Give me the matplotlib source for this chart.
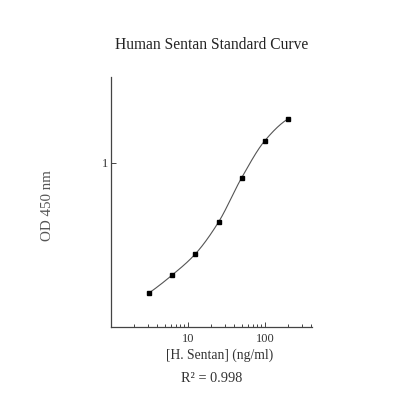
import numpy as np
import matplotlib
matplotlib.use("Agg")
import matplotlib.pyplot as plt
from matplotlib.ticker import FixedLocator, NullFormatter, NullLocator, FixedFormatter

conc = [3.125, 6.25, 12.5, 25, 50, 100, 200]
od = [0.190, 0.239, 0.313, 0.470, 0.829, 1.330, 1.756]
x_ticks = [10, 100]
x_tick_labels = ["10", "100"]
y_ticks = [1]
y_tick_labels = ["1"]

plt.rcParams['font.family'] = ['Liberation Serif', 'DejaVu Serif']

def pchip(x, y, xn):
    x = np.asarray(x, float); y = np.asarray(y, float)
    h = np.diff(x); d = np.diff(y) / h
    n = len(x); m = np.zeros(n)
    for k in range(1, n - 1):
        if d[k - 1] * d[k] > 0:
            w1 = 2 * h[k] + h[k - 1]; w2 = h[k] + 2 * h[k - 1]
            m[k] = (w1 + w2) / (w1 / d[k - 1] + w2 / d[k])
    m[0] = ((2 * h[0] + h[1]) * d[0] - h[0] * d[1]) / (h[0] + h[1])
    m[-1] = ((2 * h[-1] + h[-2]) * d[-1] - h[-1] * d[-2]) / (h[-1] + h[-2])
    idx = np.clip(np.searchsorted(x, xn) - 1, 0, n - 2)
    t = (xn - x[idx]) / h[idx]
    h00 = 2 * t**3 - 3 * t**2 + 1; h10 = t**3 - 2 * t**2 + t
    h01 = -2 * t**3 + 3 * t**2; h11 = t**3 - t**2
    return h00 * y[idx] + h10 * h[idx] * m[idx] + h01 * y[idx + 1] + h11 * h[idx] * m[idx + 1]

fig = plt.figure(figsize=(4, 4), dpi=100)
ax = fig.add_axes([0.2775, 0.1825, 0.5025, 0.625])

lx = np.log10(conc); ly = np.log10(od)
xs = np.linspace(lx[0], lx[-1], 300)
ys = pchip(lx, ly, xs)
ax.plot(10**xs, 10**ys, color='#555555', lw=0.8)
ax.plot(conc, od, 's', color='black', ms=3.2)

ax.set_xscale('log'); ax.set_yscale('log')
ax.set_xlim(1, 410)
ax.set_ylim(0.123, 3.0)
ax.xaxis.set_major_locator(FixedLocator(x_ticks))
ax.xaxis.set_major_formatter(FixedFormatter(x_tick_labels))
minor = [m * 10**e for e in range(0, 3) for m in range(2, 10) if m * 10**e < 410]
ax.xaxis.set_minor_locator(FixedLocator(minor))
ax.xaxis.set_minor_formatter(NullFormatter())
ax.yaxis.set_major_locator(FixedLocator(y_ticks))
ax.yaxis.set_major_formatter(FixedFormatter(y_tick_labels))
ax.yaxis.set_minor_locator(NullLocator())

for s in ['top', 'right']:
    ax.spines[s].set_visible(False)
for s in ['left', 'bottom']:
    ax.spines[s].set_color('#444444'); ax.spines[s].set_linewidth(0.9)
ax.tick_params(which='both', direction='in', color='#444444', labelsize=9, labelcolor='#333333', width=0.7)
ax.tick_params(which='major', length=3.5)
ax.tick_params(axis='x', which='major', pad=4)
ax.tick_params(axis='y', which='major', pad=2)
ax.tick_params(which='minor', length=2.5)

fig.text(0.53, 0.888, 'Human Sentan Standard Curve', ha='center', va='center', fontsize=11.2, color='#222222')
fig.text(0.548, 0.112, '[H. Sentan] (ng/ml)', ha='center', va='center', fontsize=9.8, color='#333333')
fig.text(0.53, 0.055, 'R² = 0.998', ha='center', va='center', fontsize=10.3, color='#333333')
fig.text(0.118, 0.485, 'OD 450 nm', ha='center', va='center', rotation=90, fontsize=10.8, color='#555555')

fig.savefig('out.png', dpi=100, facecolor='white')
